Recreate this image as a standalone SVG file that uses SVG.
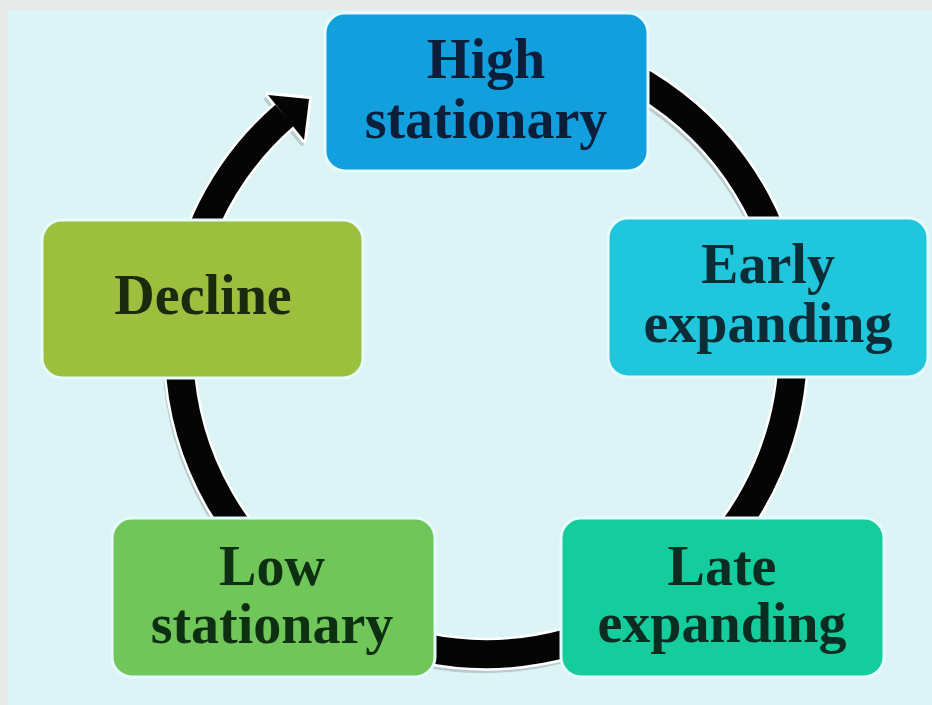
<svg xmlns="http://www.w3.org/2000/svg" width="932" height="705" viewBox="0 0 932 705">
  <defs>
    <style>
      .box { stroke: #e6fbfd; stroke-width: 3; }
      .lbl { font-family: "Liberation Serif", "Times New Roman", serif; font-weight: bold; font-size: 56px; text-anchor: middle; }
      .ring { fill: none; stroke-linecap: butt; }
    </style>
    <!-- shared ring geometry: circle centre (486,347), r 307, clockwise from -80deg to 229deg -->
    <path id="ringPath" d="M 539.3 44.7 A 307 307 0 1 1 284.6 115.3"/>
    <polygon id="ringHead" points="268,95 309,99 304,140"/>
  </defs>

  <!-- backdrop -->
  <rect x="0" y="0" width="932" height="705" fill="#e8eaea"/>
  <rect x="8" y="10" width="924" height="695" fill="#ddf4f7"/>

  <!-- cycle connector -->
  <g id="connectors">
    <g transform="translate(-2,4)" opacity="0.45">
      <use href="#ringPath" class="ring" stroke="#8e9a9c" stroke-width="30"/>
      <use href="#ringHead" fill="#8e9a9c" stroke="#8e9a9c" stroke-width="4" stroke-linejoin="round"/>
    </g>
    <use href="#ringPath" class="ring" stroke="#ffffff" stroke-width="33"/>
    <use href="#ringHead" fill="#ffffff" stroke="#ffffff" stroke-width="6" stroke-linejoin="round"/>
    <use href="#ringPath" class="ring" stroke="#050505" stroke-width="28"/>
    <use href="#ringHead" fill="#050505"/>
  </g>

  <g id="high-stationary">
    <rect class="box" x="325" y="13" width="323" height="158" rx="20" fill="#129fdd"/>
    <text class="lbl" fill="#0b1f3b" x="486" y="78">High</text>
    <text class="lbl" fill="#0b1f3b" x="486" y="138">stationary</text>
  </g>

  <g id="early-expanding">
    <rect class="box" x="608" y="218" width="320" height="159" rx="20" fill="#20c6dc"/>
    <text class="lbl" fill="#0c2c38" x="768" y="283">Early</text>
    <text class="lbl" fill="#0c2c38" x="768" y="342">expanding</text>
  </g>

  <g id="decline">
    <rect class="box" x="42" y="220" width="321" height="158" rx="20" fill="#9dbf3e"/>
    <text class="lbl" fill="#1b2a0e" x="203" y="314">Decline</text>
  </g>

  <g id="low-stationary">
    <rect class="box" x="112" y="518" width="323" height="159" rx="20" fill="#71c65a"/>
    <text class="lbl" fill="#0d3013" x="272" y="585">Low</text>
    <text class="lbl" fill="#0d3013" x="272" y="643">stationary</text>
  </g>

  <g id="late-expanding">
    <rect class="box" x="561" y="518" width="323" height="159" rx="20" fill="#14cc9c"/>
    <text class="lbl" fill="#0a2c21" x="722" y="585">Late</text>
    <text class="lbl" fill="#0a2c21" x="722" y="642">expanding</text>
  </g>
</svg>
